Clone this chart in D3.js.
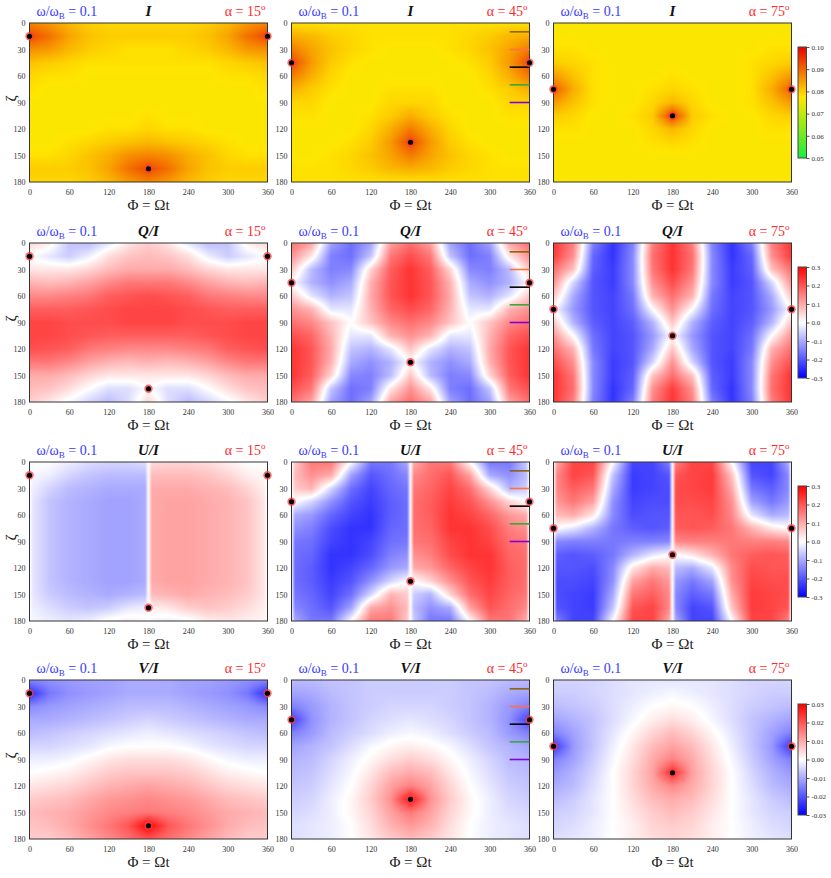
<!DOCTYPE html>
<html>
<head>
<meta charset="utf-8">
<script src="https://cdn.jsdelivr.net/npm/d3@7/dist/d3.min.js"></script>
<style>
body { margin:0; background:#fff; }
text { font-family: "Liberation Serif", "DejaVu Serif", serif; }
</style>
</head>
<body>
<svg id="fig" width="831" height="878"></svg>
<script>
// grid nodes, degrees
var phiGrid  = [0,30,60,90,120,150,180,210,240,270,300,330,360];
var phiGridU = [0,5,30,60,90,120,150,175,180,185,210,240,270,300,330,355,360];
var zetaGrid = [0,15,30,45,60,75,90,105,120,135,150,165,180];

var alphas = [15, 45, 75];
var rowNames = ["I", "Q/I", "U/I", "V/I"];
var phiTicks = [0,60,120,180,240,300,360];
var zetaTicks = [0,30,60,90,120,150,180];

// magnetic poles crossed by the line of sight [phi, zeta]
var poles_a15 = [[0,15],[360,15],[180,165]];
var poles_a45 = [[0,45],[360,45],[180,135]];
var poles_a75 = [[0,75],[360,75],[180,105]];

// short marker lines in the middle column
var legendZeta = [10,30,50,70,90];
var legendColors = ["#8b6508","#ff7538","#000000","#3aa837","#8000e0"];

// I in units of 1e-3
var I_a15 = [
[87,85,82,80,79,79,79,79,79,80,82,85,87],
[93,89,84,81,80,80,80,80,80,81,84,89,93],
[86,85,82,80,79,78,78,78,79,80,82,85,86],
[81,80,79,78,78,78,78,78,78,78,79,80,81],
[79,78,78,77,77,77,77,77,77,77,78,78,79],
[78,77,77,77,77,77,77,77,77,77,77,77,78],
[77,77,77,77,77,77,77,77,77,77,77,77,77],
[77,77,77,77,77,77,78,77,77,77,77,77,77],
[77,77,77,77,78,78,79,78,78,77,77,77,77],
[77,77,78,79,80,81,82,81,80,79,78,77,77],
[78,78,79,81,83,86,87,86,83,81,79,78,78],
[80,80,80,81,84,89,93,89,84,81,80,80,80],
[79,79,79,80,82,85,87,85,82,80,79,79,79]];
var I_a45 = [
[78,78,78,78,78,78,78,78,78,78,78,78,78],
[83,82,80,79,78,78,78,78,78,79,80,82,83],
[88,84,81,79,78,77,77,77,78,79,81,84,88],
[93,85,80,78,77,77,77,77,77,78,80,85,93],
[88,83,79,77,77,77,77,77,77,77,79,83,88],
[83,80,78,77,77,78,78,78,77,77,78,80,83],
[79,79,77,77,77,79,79,79,77,77,77,79,79],
[78,78,77,77,78,80,83,80,78,77,77,78,78],
[77,77,77,77,79,83,88,83,79,77,77,77,77],
[77,77,77,78,80,85,93,85,80,78,77,77,77],
[77,77,78,79,81,84,88,84,81,79,78,77,77],
[78,78,78,79,80,82,83,82,80,79,78,78,78],
[78,78,78,78,78,78,78,78,78,78,78,78,78]];
var I_a75 = [
[77,77,77,77,77,77,77,77,77,77,77,77,77],
[77,77,77,77,77,77,77,77,77,77,77,77,77],
[78,78,77,77,77,77,77,77,77,77,77,78,78],
[80,79,78,77,77,77,77,77,77,77,78,79,80],
[85,81,78,77,77,77,78,77,77,77,78,81,85],
[91,83,78,77,77,78,79,78,77,77,78,83,91],
[85,81,78,77,77,79,82,79,77,77,78,81,85],
[80,79,77,77,78,80,94,80,78,77,77,79,80],
[78,78,77,77,77,79,82,79,77,77,77,78,78],
[77,77,77,77,77,78,79,78,77,77,77,77,77],
[77,77,77,77,77,77,77,77,77,77,77,77,77],
[77,77,77,77,77,77,77,77,77,77,77,77,77],
[77,77,77,77,77,77,77,77,77,77,77,77,77]];

// Q/I in units of 1e-2
var Q_a15 = [
[5,2,-7,-8,-3,3,6,3,-3,-8,-7,2,5],
[0,-3,-6,-2,4,7,8,7,4,-2,-6,-3,0],
[3,3,3,5,8,10,10,10,8,5,3,3,3],
[9,8,9,11,14,16,16,16,14,11,9,8,9],
[14,14,15,16,19,20,21,20,19,16,15,14,14],
[19,19,19,20,21,22,22,22,21,20,19,19,19],
[22,22,21,21,21,22,22,22,21,21,21,22,22],
[22,22,21,20,19,19,19,19,19,20,21,22,22],
[21,20,19,16,15,14,14,14,15,16,19,20,21],
[16,16,14,11,9,8,9,8,9,11,14,16,16],
[10,10,8,5,3,3,3,3,3,5,8,10,10],
[8,7,4,0,-4,-4,0,-4,-4,0,4,7,8],
[6,3,-1,-5,-8,-4,5,-4,-8,-5,-1,3,6]];
var Q_a45 = [
[17,11,-11,-17,-11,11,17,11,-11,-17,-11,11,17],
[13,3,-15,-17,-7,16,21,16,-7,-17,-15,3,13],
[7,-8,-15,-14,5,19,24,19,5,-14,-15,-8,7],
[0,-9,-13,-10,9,20,24,20,9,-10,-13,-9,0],
[7,-3,-9,-7,10,20,24,20,10,-7,-9,-3,7],
[13,9,-3,-3,9,18,21,18,9,-3,-3,9,13],
[17,14,7,0,7,14,17,14,7,0,7,14,17],
[21,18,9,-3,-3,9,13,9,-3,-3,9,18,21],
[24,20,10,-7,-9,-3,7,-3,-9,-7,10,20,24],
[24,20,9,-10,-13,-9,0,-9,-13,-10,9,20,24],
[24,19,5,-14,-15,-8,7,-8,-15,-14,5,19,24],
[21,16,-7,-17,-15,3,13,3,-15,-17,-7,16,21],
[17,11,-11,-17,-11,11,17,11,-11,-17,-11,11,17]];
var Q_a75 = [
[24,15,-15,-24,-15,15,24,15,-15,-24,-15,15,24],
[23,13,-18,-24,-14,17,24,17,-14,-24,-18,13,23],
[17,7,-19,-23,-14,16,24,16,-14,-23,-19,7,17],
[13,-5,-20,-23,-14,13,21,13,-14,-23,-20,-5,13],
[7,-10,-20,-22,-16,9,17,9,-16,-22,-20,-10,7],
[0,-12,-20,-22,-17,0,13,0,-17,-22,-20,-12,0],
[7,-9,-19,-22,-19,-9,7,-9,-19,-22,-19,-9,7],
[13,0,-17,-22,-20,-12,0,-12,-20,-22,-17,0,13],
[17,9,-16,-22,-20,-10,7,-10,-20,-22,-16,9,17],
[21,13,-14,-23,-20,-5,13,-5,-20,-23,-14,13,21],
[24,16,-14,-23,-19,7,17,7,-19,-23,-14,16,24],
[24,17,-14,-24,-18,13,23,13,-18,-24,-14,17,24],
[24,15,-15,-24,-15,15,24,15,-15,-24,-15,15,24]];

// U/I in units of 1e-2 (on phiGridU)
var U_a15 = [
[0,0,0,-2,-4,-5,-5,-4,0,4,5,5,4,2,0,0,0],
[0,-1,-2,-5,-7,-8,-8,-8,0,8,8,8,7,5,2,1,0],
[0,-2,-5,-8,-9,-10,-10,-10,0,10,10,10,9,8,5,2,0],
[0,-3,-7,-9,-10,-11,-11,-10,0,10,11,11,10,9,7,3,0],
[0,-3,-7,-9,-10,-11,-11,-10,0,10,11,11,10,9,7,3,0],
[0,-3,-7,-9,-10,-11,-11,-10,0,10,11,11,10,9,7,3,0],
[0,-3,-7,-9,-10,-11,-11,-10,0,10,11,11,10,9,7,3,0],
[0,-3,-7,-9,-10,-11,-11,-10,0,10,11,11,10,9,7,3,0],
[0,-3,-7,-9,-10,-11,-11,-10,0,10,11,11,10,9,7,3,0],
[0,-3,-7,-9,-10,-11,-11,-10,0,10,11,11,10,9,7,3,0],
[0,-3,-6,-8,-9,-10,-9,-8,0,8,9,10,9,8,6,3,0],
[0,-2,-4,-6,-7,-6,-3,-2,0,2,3,6,7,6,4,2,0],
[0,-1,-2,-3,-2,1,2,1,0,-1,-2,-1,2,3,2,1,0]];
var U_a45 = [
[0,6,16,16,0,-16,-16,-10,0,10,16,16,0,-16,-16,-6,0],
[0,8,13,10,-11,-20,-17,-14,0,14,17,20,11,-10,-13,-8,0],
[0,6,9,-5,-17,-22,-18,-16,0,16,18,22,17,5,-9,-6,0],
[0,0,-5,-13,-20,-23,-19,-17,0,17,19,23,20,13,5,0,0],
[0,-10,-12,-18,-22,-24,-19,-17,0,17,19,24,22,18,12,10,0],
[0,-13,-15,-21,-24,-24,-18,-17,0,17,18,24,24,21,15,13,0],
[0,-16,-17,-22,-24,-22,-17,-16,0,16,17,22,24,22,17,16,0],
[0,-17,-18,-24,-24,-21,-15,-13,0,13,15,21,24,24,18,17,0],
[0,-17,-19,-24,-22,-18,-12,-10,0,10,12,18,22,24,19,17,0],
[0,-17,-19,-23,-20,-13,-5,0,0,0,5,13,20,23,19,17,0],
[0,-16,-18,-22,-17,-5,9,6,0,-6,-9,5,17,22,18,16,0],
[0,-14,-17,-20,-11,10,13,8,0,-8,-13,-10,11,20,17,14,0],
[0,-10,-16,-16,0,16,16,6,0,-6,-16,-16,0,16,16,10,0]];
var U_a75 = [
[0,10,22,22,0,-22,-22,-15,0,15,22,22,0,-22,-22,-10,0],
[0,14,22,20,-7,-23,-22,-20,0,20,22,23,7,-20,-22,-14,0],
[0,14,19,16,-10,-23,-22,-21,0,21,22,23,10,-16,-19,-14,0],
[0,12,16,11,-13,-22,-21,-21,0,21,21,22,13,-11,-16,-12,0],
[0,8,10,3,-14,-21,-20,-20,0,20,20,21,14,-3,-10,-8,0],
[0,0,-3,-9,-16,-19,-20,-19,0,19,20,19,16,9,3,0,0],
[0,-14,-15,-15,-16,-15,-15,-14,0,14,15,15,16,15,15,14,0],
[0,-19,-20,-19,-16,-9,-3,0,0,0,3,9,16,19,20,19,0],
[0,-20,-20,-21,-14,3,10,8,0,-8,-10,-3,14,21,20,20,0],
[0,-21,-21,-22,-13,11,16,12,0,-12,-16,-11,13,22,21,21,0],
[0,-21,-22,-23,-10,16,19,14,0,-14,-19,-16,10,23,22,21,0],
[0,-20,-22,-23,-7,20,22,14,0,-14,-22,-20,7,23,22,20,0],
[0,-15,-22,-22,0,22,22,10,0,-10,-22,-22,0,22,22,15,0]];

// V/I in units of 1e-3
var V_a15 = [
[-14,-13,-12,-11,-11,-10,-10,-10,-11,-11,-12,-13,-14],
[-25,-16,-13,-12,-11,-10,-10,-10,-11,-12,-13,-16,-25],
[-14,-12,-11,-10,-9,-8,-8,-8,-9,-10,-11,-12,-14],
[-10,-10,-9,-8,-7,-6,-5,-6,-7,-8,-9,-10,-10],
[-8,-7,-6,-5,-4,-3,-2,-3,-4,-5,-6,-7,-8],
[-5,-5,-4,-3,-1,0,0,0,-1,-3,-4,-5,-5],
[-2,-2,-1,1,3,4,4,4,3,1,-1,-2,-2],
[0,1,2,4,6,7,7,7,6,4,2,1,0],
[3,4,5,7,9,10,11,10,9,7,5,4,3],
[6,7,8,10,12,13,14,13,12,10,8,7,6],
[8,9,10,12,14,15,16,15,14,12,10,9,8],
[7,8,10,13,16,20,30,20,16,13,10,8,7],
[6,6,8,11,14,17,20,17,14,11,8,6,6]];
var V_a45 = [
[-8,-8,-7,-7,-6,-6,-6,-6,-6,-7,-7,-8,-8],
[-11,-10,-8,-7,-6,-6,-6,-6,-6,-7,-8,-10,-11],
[-15,-12,-9,-7,-6,-5,-5,-5,-6,-7,-9,-12,-15],
[-23,-13,-9,-7,-5,-4,-3,-4,-5,-7,-9,-13,-23],
[-15,-12,-8,-6,-4,-2,-1,-2,-4,-6,-8,-12,-15],
[-11,-9,-7,-4,-1,1,2,1,-1,-4,-7,-9,-11],
[-9,-8,-5,-2,1,4,6,4,1,-2,-5,-8,-9],
[-8,-7,-4,-1,3,8,10,8,3,-1,-4,-7,-8],
[-7,-6,-3,0,5,11,15,11,5,0,-3,-6,-7],
[-6,-5,-2,1,6,13,28,13,6,1,-2,-5,-6],
[-5,-4,-2,1,5,11,16,11,5,1,-2,-4,-5],
[-4,-3,-2,0,4,9,12,9,4,0,-2,-3,-4],
[-4,-3,-2,0,3,6,8,6,3,0,-2,-3,-4]];
var V_a75 = [
[-5,-5,-5,-4,-3,-3,-3,-3,-3,-4,-5,-5,-5],
[-6,-6,-5,-4,-3,-2,-1,-2,-3,-4,-5,-6,-6],
[-8,-7,-6,-4,-2,0,1,0,-2,-4,-6,-7,-8],
[-11,-9,-7,-4,-1,2,4,2,-1,-4,-7,-9,-11],
[-15,-11,-7,-3,1,5,8,5,1,-3,-7,-11,-15],
[-24,-12,-7,-2,3,8,11,8,3,-2,-7,-12,-24],
[-15,-11,-6,-1,4,10,15,10,4,-1,-6,-11,-15],
[-12,-9,-5,0,5,11,25,11,5,0,-5,-9,-12],
[-10,-8,-4,0,5,10,14,10,5,0,-4,-8,-10],
[-8,-6,-3,0,4,8,10,8,4,0,-3,-6,-8],
[-6,-5,-3,0,3,6,8,6,3,0,-3,-5,-6],
[-5,-4,-2,0,2,5,6,5,2,0,-2,-4,-5],
[-4,-3,-2,0,2,4,5,4,2,0,-2,-3,-4]];

// colorbar ticks (real values)
var ticksI = [0.05,0.06,0.07,0.08,0.09,0.10];
var ticksQU = [-0.3,-0.2,-0.1,0,0.1,0.2,0.3];
var ticksV = [-0.03,-0.02,-0.01,0,0.01,0.02,0.03];

var svg = d3.select("#fig");
var colLeft = [29.5, 291.5, 553.5];
var rowTop = [23, 243, 462, 680];
var pw = 238, ph = 159;

var bwr = ["#0000ff", "#ffffff", "#ff0000"];
var rows = [
  {grids: [I_a15, I_a45, I_a75], phi: phiGrid, unit: 1e-3,
   color: d3.scaleLinear().domain([50, 77.5, 100]).range(["#1aee3a", "#ffe600", "#e80000"]),
   lo: 50, hi: 100, ticks: ticksI, fmt: function(v){ return v.toFixed(2); }},
  {grids: [Q_a15, Q_a45, Q_a75], phi: phiGrid, unit: 1e-2,
   color: d3.scaleLinear().domain([-30, 0, 30]).range(bwr),
   lo: -30, hi: 30, ticks: ticksQU, fmt: function(v){ return v.toFixed(1); }},
  {grids: [U_a15, U_a45, U_a75], phi: phiGridU, unit: 1e-2,
   color: d3.scaleLinear().domain([-30, 0, 30]).range(bwr),
   lo: -30, hi: 30, ticks: ticksQU, fmt: function(v){ return v.toFixed(1); }},
  {grids: [V_a15, V_a45, V_a75], phi: phiGrid, unit: 1e-3,
   color: d3.scaleLinear().domain([-30, 0, 30]).range(bwr),
   lo: -30, hi: 30, ticks: ticksV, fmt: function(v){ return v.toFixed(2); }}
];
var poles = [poles_a15, poles_a45, poles_a75];

var x = d3.scaleLinear().domain([0, 360]).range([0, pw]);
var y = d3.scaleLinear().domain([0, 180]).range([0, ph]);

// colour lookup table so we don't parse colours per pixel
var makeLut = function(color, lo, hi){
  var lut = [];
  for (var i = 0; i < 512; i++) lut.push(d3.rgb(color(lo + (hi - lo) * i / 511)));
  return lut;
};

var drawMap = function(g, grid, phiG, row){
  var lut = makeLut(row.color, row.lo, row.hi);
  var fx = d3.scaleLinear().domain(phiG).range(d3.range(phiG.length)).clamp(true);
  var fy = d3.scaleLinear().domain(zetaGrid).range(d3.range(zetaGrid.length)).clamp(true);
  var cv = document.createElement("canvas");
  cv.width = pw; cv.height = ph;
  var ctx = cv.getContext("2d");
  var img = ctx.createImageData(pw, ph);
  var nx = phiG.length, ny = zetaGrid.length;
  for (var py = 0; py < ph; py++) {
    var fj = fy(y.invert(py + 0.5));
    var j0 = Math.min(Math.floor(fj), ny - 2), ty = fj - j0;
    for (var px = 0; px < pw; px++) {
      var fi = fx(x.invert(px + 0.5));
      var i0 = Math.min(Math.floor(fi), nx - 2), tx = fi - i0;
      var v = (1 - ty) * ((1 - tx) * grid[j0][i0] + tx * grid[j0][i0 + 1]) +
              ty * ((1 - tx) * grid[j0 + 1][i0] + tx * grid[j0 + 1][i0 + 1]);
      var k = Math.round((v - row.lo) / (row.hi - row.lo) * 511);
      k = Math.max(0, Math.min(511, k));
      var c = lut[k], o = (py * pw + px) * 4;
      img.data[o] = c.r; img.data[o + 1] = c.g; img.data[o + 2] = c.b; img.data[o + 3] = 255;
    }
  }
  ctx.putImageData(img, 0, 0);
  g.append("image")
    .attr("href", cv.toDataURL())
    .attr("width", pw).attr("height", ph)
    .attr("preserveAspectRatio", "none");
};

var defs = svg.append("defs");

rows.forEach(function(row, r){
  alphas.forEach(function(alpha, c){
    var g = svg.append("g")
      .attr("transform", "translate(" + colLeft[c] + "," + rowTop[r] + ")");

    drawMap(g, row.grids[c], row.phi, row);

    g.append("rect")
      .attr("width", pw).attr("height", ph)
      .attr("fill", "none").attr("stroke", "#333").attr("stroke-width", 1);

    // short coloured marker lines, middle column
    if (c == 1) {
      legendZeta.forEach(function(z, i){
        g.append("line")
          .attr("x1", x(330)).attr("x2", x(360))
          .attr("y1", y(z)).attr("y2", y(z))
          .attr("stroke", legendColors[i]).attr("stroke-width", 1.6);
      });
    }

    // pole markers
    poles[c].forEach(function(p){
      g.append("circle").attr("cx", x(p[0])).attr("cy", y(p[1])).attr("r", 4.2)
        .attr("fill", "#ff3b3b").attr("opacity", 0.75);
      g.append("circle").attr("cx", x(p[0])).attr("cy", y(p[1])).attr("r", 2.6)
        .attr("fill", "#000");
    });

    // axes
    var ax = g.append("g").attr("transform", "translate(0," + ph + ")")
      .call(d3.axisBottom(x).tickValues(phiTicks).tickSize(0).tickPadding(7));
    var ay = g.append("g")
      .call(d3.axisLeft(y).tickValues(zetaTicks).tickSize(0).tickPadding(4));
    [ax, ay].forEach(function(a){
      a.select(".domain").remove();
      a.selectAll("text").attr("font-size", 8).attr("fill", "#333")
        .attr("font-family", "Liberation Serif, DejaVu Serif, serif");
    });

    g.append("text").attr("x", pw / 2).attr("y", ph + 28)
      .attr("text-anchor", "middle").attr("font-size", 15).attr("fill", "#222")
      .text("Φ = Ωt");
    if (c == 0) {
      g.append("text")
        .attr("transform", "translate(-19," + (ph / 2 - 4) + ") rotate(-90)")
        .attr("text-anchor", "middle").attr("dominant-baseline", "central")
        .attr("font-size", 15).attr("fill", "#222")
        .text("ζ");
    }

    // titles
    var tl = g.append("text").attr("x", 7).attr("y", -7)
      .attr("font-size", 14).attr("fill", "#3a3aff");
    tl.append("tspan").text("ω/ω");
    tl.append("tspan").attr("font-size", 9).attr("dy", 3).text("B");
    tl.append("tspan").attr("dy", -3).text(" = 0.1");

    g.append("text").attr("x", pw / 2).attr("y", -7)
      .attr("text-anchor", "middle").attr("font-size", 15)
      .attr("font-weight", "bold").attr("font-style", "italic").attr("fill", "#111")
      .text(rowNames[r]);

    var tr = g.append("text").attr("x", pw - 2).attr("y", -7)
      .attr("text-anchor", "end").attr("font-size", 14).attr("fill", "#ff2a2a");
    tr.append("tspan").text("α = " + alpha);
    tr.append("tspan").attr("font-size", 9).attr("dy", -6).text("o");

    // colorbar, right column
    if (c == 2) {
      var cbx = pw + 6.5, cbw = 8.5, cbt = 24, cbh = 111;
      var gid = "cb" + r;
      var grad = defs.append("linearGradient").attr("id", gid)
        .attr("x1", 0).attr("y1", 1).attr("x2", 0).attr("y2", 0);
      d3.range(41).forEach(function(i){
        grad.append("stop").attr("offset", i / 40)
          .attr("stop-color", row.color(row.lo + (row.hi - row.lo) * i / 40));
      });
      g.append("rect").attr("x", cbx).attr("y", cbt)
        .attr("width", cbw).attr("height", cbh)
        .attr("fill", "url(#" + gid + ")").attr("stroke", "#444").attr("stroke-width", 1);
      var cs = d3.scaleLinear().domain([row.lo * row.unit, row.hi * row.unit]).range([cbh, 0]);
      var ca = g.append("g").attr("transform", "translate(" + (cbx + cbw) + "," + cbt + ")")
        .call(d3.axisRight(cs).tickValues(row.ticks).tickSize(3).tickPadding(2).tickFormat(row.fmt));
      ca.select(".domain").remove();
      ca.selectAll("line").attr("stroke", "#555");
      ca.selectAll("text").attr("font-size", 7).attr("fill", "#333")
        .attr("font-family", "Liberation Serif, DejaVu Serif, serif");
    }
  });
});
</script>
</body>
</html>
